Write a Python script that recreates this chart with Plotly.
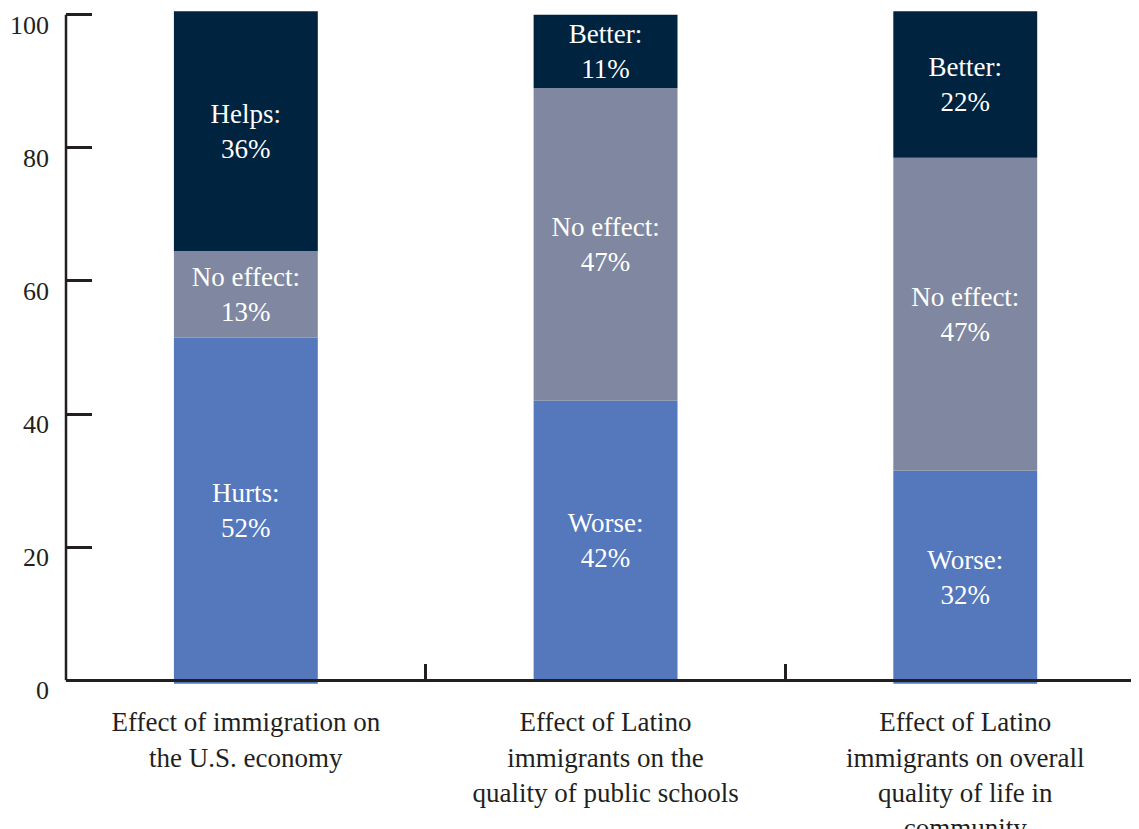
import plotly.graph_objects as go

categories = [
    "Effect of immigration on<br>the U.S. economy",
    "Effect of Latino<br>immigrants on the<br>quality of public schools",
    "Effect of Latino<br>immigrants on overall<br>quality of life in<br>community",
]
bottom_labels = ["Hurts", "Worse", "Worse"]
bottom_values = [52, 42, 32]
middle_labels = ["No effect", "No effect", "No effect"]
middle_values = [13, 47, 47]
top_labels = ["Helps", "Better", "Better"]
top_values = [36, 11, 22]
y_ticks = [0, 20, 40, 60, 80, 100]

totals = [a + b + c for a, b, c in zip(bottom_values, middle_values, top_values)]
bases = [(100 - t) / 2 for t in totals]

FONT = "Liberation Serif"
TXT = "#231f20"
colors = ["#5577bc", "#7f88a0", "#00233f"]

fig = go.Figure()
cum = list(bases)
for labels, vals, col in [
    (bottom_labels, bottom_values, colors[0]),
    (middle_labels, middle_values, colors[1]),
    (top_labels, top_values, colors[2]),
]:
    fig.add_trace(go.Bar(
        x=categories,
        y=vals,
        base=list(cum),
        width=0.4,
        marker=dict(color=col, line=dict(width=0)),
        text=[f"{l}:<br>{v}%" for l, v in zip(labels, vals)],
        textposition="inside",
        insidetextanchor="middle",
        textangle=0,
        textfont=dict(family=FONT, size=27, color="white"),
        hoverinfo="skip",
    ))
    cum = [c + v for c, v in zip(cum, vals)]

y0, y1 = -0.7, 100.7
fig.update_layout(
    width=1131, height=821,
    margin=dict(l=58, r=0, t=2.35, b=144.35),
    plot_bgcolor="white", paper_bgcolor="white",
    showlegend=False,
    barmode="overlay",
    font=dict(family=FONT, color=TXT, size=27),
)
fig.update_xaxes(
    type="category",
    range=[-0.5, 2.483],
    tickson="boundaries",
    ticks="inside", ticklen=16, tickwidth=2.5, tickcolor=TXT,
    showline=True, linecolor=TXT, linewidth=2.5,
    anchor="free", position=(0 - y0) / (y1 - y0),
    showgrid=False, zeroline=False,
    tickfont=dict(family=FONT, size=27, color=TXT),
    ticklabelstandoff=17,
    automargin=False,
)
fig.update_yaxes(
    range=[y0, y1],
    tickmode="array", tickvals=y_ticks,
    ticks="inside", ticklen=26, tickwidth=2.5, tickcolor=TXT,
    showline=False, showgrid=False, zeroline=False,
    tickfont=dict(family=FONT, size=26, color=TXT),
    ticklabelshift=10,
    ticklabelstandoff=16,
    ticklabeloverflow="allow",
    automargin=False,
)
fig.add_shape(type="line", xref="paper", yref="y", x0=0, x1=0,
              y0=min(y_ticks), y1=max(y_ticks),
              line=dict(color=TXT, width=2.5), layer="above")
fig.write_html("out.html")
